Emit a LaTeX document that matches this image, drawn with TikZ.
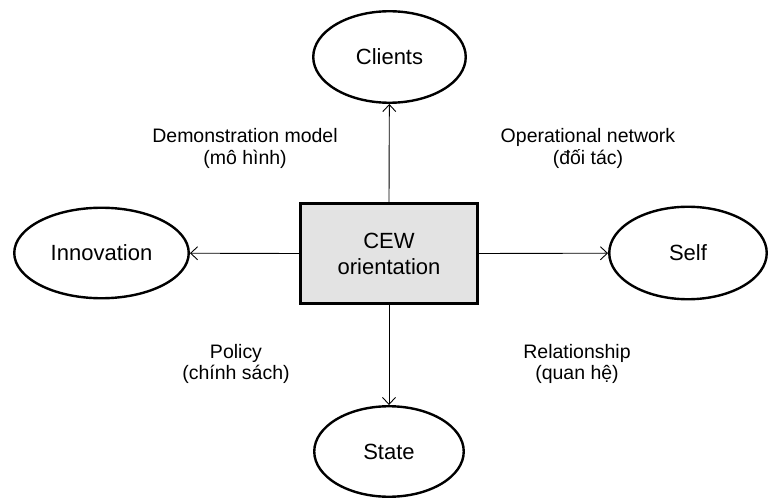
\documentclass[tikz,border=0pt]{standalone}
\usepackage{fontspec}
\setmainfont{Liberation Sans}
\usetikzlibrary{shapes.geometric,arrows.meta}
\definecolor{boxgray}{HTML}{E3E3E3}
\begin{document}
\begin{tikzpicture}[x=1pt,y=-1pt,
  ell/.style={draw=black,line width=2.4pt,ellipse,inner sep=0pt,font=\fontsize{22}{26}\selectfont},
  cbox/.style={draw=black,line width=3pt,fill=boxgray,rectangle,minimum width=177pt,minimum height=100pt,align=center,font=\fontsize{22}{26}\selectfont},
  lab/.style={align=center,font=\fontsize{19.5}{21.5}\selectfont,inner sep=0pt},
  arr/.style={-{Straight Barb[length=7pt,width=13pt]},line width=0.9pt}]
\useasboundingbox (0,0) rectangle (769,500);
\node[cbox] (cew) at (389,253.5) {CEW\\orientation};
\node[ell,minimum width=152.5pt,minimum height=91.5pt] (cli) at (389.5,57) {Clients};
\node[ell,minimum width=174.5pt,minimum height=90.5pt] (inn) at (101.5,253) {Innovation};
\node[ell,minimum width=157.5pt,minimum height=92.5pt] (self) at (688,253) {Self};
\node[ell,minimum width=149.5pt,minimum height=90.5pt] (sta) at (389,451.5) {State};
\draw[arr] (cew.north) -- (cli);
\draw[arr] (cew.west) -- (inn);
\draw[arr] (cew.east) -- (self);
\draw[arr] (cew.south) -- (sta);
\node[lab] (l1) at (245,148.5) {Demonstration model\\(mô hình)};
\node[lab] (l2) at (588,148.5) {Operational network\\(đối tác)};
\node[lab] (l3) at (236,364) {Policy\\(chính sách)};
\node[lab] (l4) at (577,364) {Relationship\\(quan hệ)};
\end{tikzpicture}
\end{document}
